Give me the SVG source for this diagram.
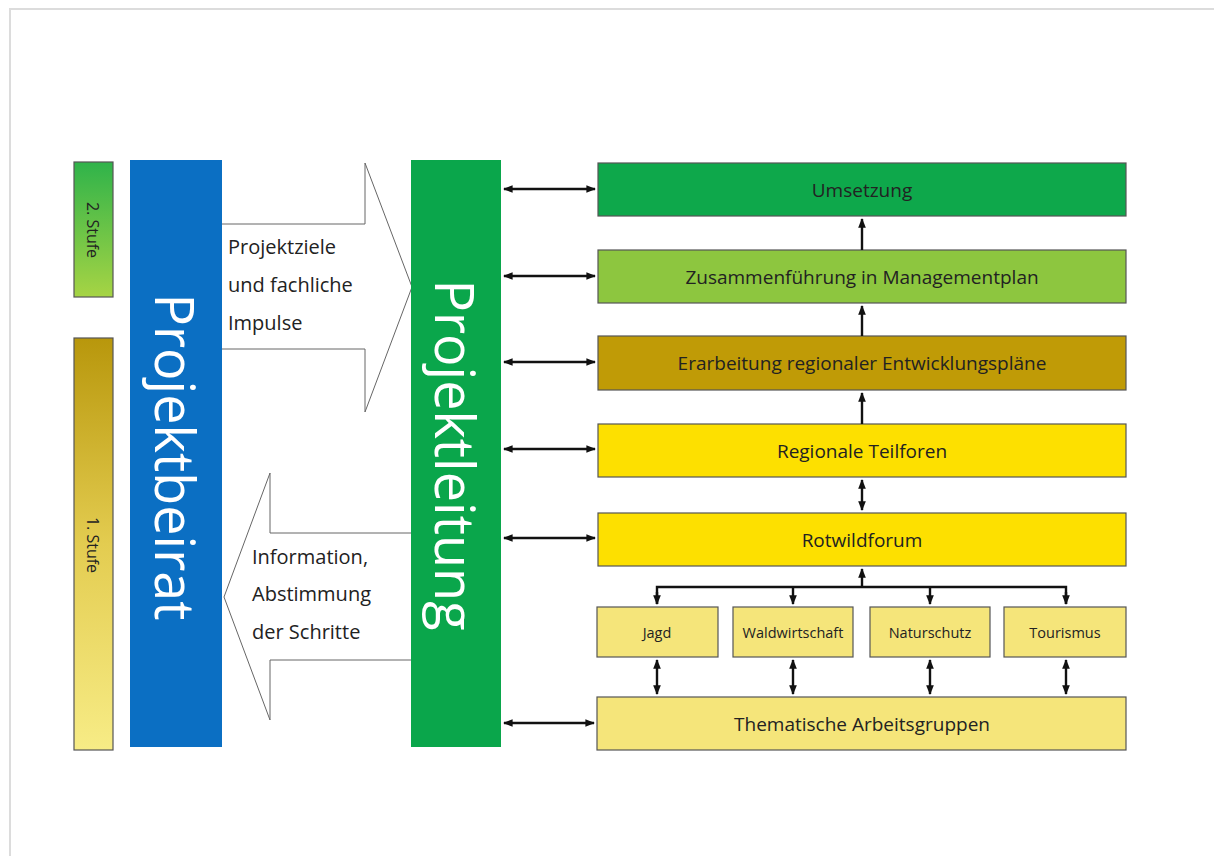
<svg xmlns="http://www.w3.org/2000/svg" width="1214" height="856" viewBox="0 0 1214 856">
<defs>
<linearGradient id="g2" x1="0" y1="0" x2="0" y2="1"><stop offset="0" stop-color="#2fb34a"/><stop offset="1" stop-color="#a6d444"/></linearGradient>
<linearGradient id="g1" x1="0" y1="0" x2="0" y2="1"><stop offset="0" stop-color="#b8970c"/><stop offset="0.5" stop-color="#e3cc50"/><stop offset="1" stop-color="#f7ec86"/></linearGradient>
<marker id="ah" viewBox="0 0 10 10" refX="9" refY="5" markerWidth="4" markerHeight="4" orient="auto-start-reverse"><path d="M0,1 L10,5 L0,9 z" fill="#111"/></marker>
</defs>
<style>
.box{stroke:#555;stroke-width:1.2}
.lbl{font-family:"Open Sans","Noto Sans",sans-serif;font-size:19px;fill:#222;text-anchor:middle;dominant-baseline:central}
.sm{font-size:14.5px}
.st{font-size:16px}
.big{font-family:"Open Sans","Noto Sans",sans-serif;font-size:54px;fill:#fff;text-anchor:middle;dominant-baseline:central}
.atxt{font-family:"Open Sans","Noto Sans",sans-serif;font-size:20px;fill:#222}
.con{stroke:#111;stroke-width:2.4;fill:none}
.arr{fill:#fff;stroke:#666;stroke-width:1}
</style>
<rect width="1214" height="856" fill="#fff"/>
<path d="M10,856 V9 H1214" fill="none" stroke="#dcdcdc" stroke-width="2"/>

<g id="stufe2"><rect class="box" x="74" y="162" width="39" height="135" fill="url(#g2)"/><text class="lbl st" transform="translate(93,230) rotate(90)">2. Stufe</text></g>
<g id="stufe1"><rect class="box" x="74" y="338" width="39" height="412" fill="url(#g1)"/><text class="lbl st" transform="translate(93,545) rotate(90)">1. Stufe</text></g>
<g id="projektbeirat"><rect x="130" y="160" width="92" height="587" fill="#0b6fc3"/><text class="big" transform="translate(176,457) rotate(90)">Projektbeirat</text></g>

<g id="arrow-right"><path class="arr" d="M222,224 H365 V163 L412,287 L365,412 V349 H222"/>
<text class="atxt" x="228" y="254">Projektziele</text><text class="atxt" x="228" y="292">und fachliche</text><text class="atxt" x="228" y="330">Impulse</text></g>
<g id="arrow-left"><path class="arr" d="M411,533 H270 V473 L224,597 L270,720 V660 H411"/>
<text class="atxt" x="252" y="564">Information,</text><text class="atxt" x="252" y="601">Abstimmung</text><text class="atxt" x="252" y="639">der Schritte</text></g>

<g id="projektleitung"><rect x="411" y="160" width="90" height="587" fill="#0aa64b"/><text class="big" transform="translate(456,455) rotate(90)">Projektleitung</text></g>

<g id="umsetzung"><rect class="box" x="598" y="163" width="528" height="53" fill="#0ea84b"/><text class="lbl" x="862" y="190">Umsetzung</text></g>
<g id="zusammenfuehrung"><rect class="box" x="598" y="250" width="528" height="53" fill="#8dc63f"/><text class="lbl" x="862" y="277">Zusammenführung in Managementplan</text></g>
<g id="erarbeitung"><rect class="box" x="598" y="336" width="528" height="54" fill="#c09b06"/><text class="lbl" x="862" y="363">Erarbeitung regionaler Entwicklungspläne</text></g>
<g id="teilforen"><rect class="box" x="598" y="424" width="528" height="53" fill="#fde000"/><text class="lbl" x="862" y="451">Regionale Teilforen</text></g>
<g id="rotwildforum"><rect class="box" x="598" y="513" width="528" height="53" fill="#fde000"/><text class="lbl" x="862" y="540">Rotwildforum</text></g>
<g id="jagd"><rect class="box" x="597" y="607" width="121" height="50" fill="#f5e57a"/><text class="lbl sm" x="657" y="632">Jagd</text></g>
<g id="waldwirtschaft"><rect class="box" x="733" y="607" width="120" height="50" fill="#f5e57a"/><text class="lbl sm" x="793" y="632">Waldwirtschaft</text></g>
<g id="naturschutz"><rect class="box" x="870" y="607" width="120" height="50" fill="#f5e57a"/><text class="lbl sm" x="930" y="632">Naturschutz</text></g>
<g id="tourismus"><rect class="box" x="1004" y="607" width="122" height="50" fill="#f5e57a"/><text class="lbl sm" x="1065" y="632">Tourismus</text></g>
<g id="arbeitsgruppen"><rect class="box" x="597" y="697" width="529" height="53" fill="#f5e57a"/><text class="lbl" x="862" y="724">Thematische Arbeitsgruppen</text></g>

<g id="connectors">
<line class="con" x1="504" y1="189" x2="595" y2="189" marker-start="url(#ah)" marker-end="url(#ah)"/>
<line class="con" x1="504" y1="276" x2="595" y2="276" marker-start="url(#ah)" marker-end="url(#ah)"/>
<line class="con" x1="504" y1="362" x2="595" y2="362" marker-start="url(#ah)" marker-end="url(#ah)"/>
<line class="con" x1="504" y1="449" x2="595" y2="449" marker-start="url(#ah)" marker-end="url(#ah)"/>
<line class="con" x1="504" y1="538" x2="595" y2="538" marker-start="url(#ah)" marker-end="url(#ah)"/>
<line class="con" x1="504" y1="723" x2="594" y2="723" marker-start="url(#ah)" marker-end="url(#ah)"/>
<line class="con" x1="862" y1="250" x2="862" y2="219" marker-end="url(#ah)"/>
<line class="con" x1="862" y1="336" x2="862" y2="306" marker-end="url(#ah)"/>
<line class="con" x1="862" y1="424" x2="862" y2="393" marker-end="url(#ah)"/>
<line class="con" x1="862" y1="480" x2="862" y2="510" marker-start="url(#ah)" marker-end="url(#ah)"/>
<line class="con" x1="862" y1="587" x2="862" y2="569" marker-end="url(#ah)"/>
<path class="con" d="M657,604 V587 H1066 V604"/>
<line class="con" x1="657" y1="592" x2="657" y2="604" marker-end="url(#ah)"/>
<line class="con" x1="793" y1="587" x2="793" y2="604" marker-end="url(#ah)"/>
<line class="con" x1="930" y1="587" x2="930" y2="604" marker-end="url(#ah)"/>
<line class="con" x1="1066" y1="592" x2="1066" y2="604" marker-end="url(#ah)"/>
<line class="con" x1="657" y1="660" x2="657" y2="694" marker-start="url(#ah)" marker-end="url(#ah)"/>
<line class="con" x1="793" y1="660" x2="793" y2="694" marker-start="url(#ah)" marker-end="url(#ah)"/>
<line class="con" x1="930" y1="660" x2="930" y2="694" marker-start="url(#ah)" marker-end="url(#ah)"/>
<line class="con" x1="1066" y1="660" x2="1066" y2="694" marker-start="url(#ah)" marker-end="url(#ah)"/>
</g>
</svg>
